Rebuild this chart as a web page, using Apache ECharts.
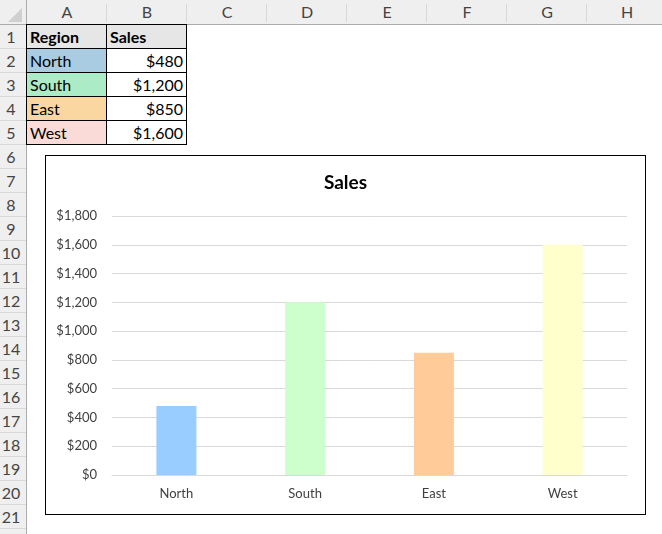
<!DOCTYPE html>
<html>
<head>
<meta charset="utf-8">
<script src="https://cdn.jsdelivr.net/npm/echarts@6/dist/echarts.min.js"></script>
<style>
  html, body { margin: 0; padding: 0; background: #fff; }
  body { width: 662px; height: 534px; position: relative; overflow: hidden; font-family: Lato, "Noto Sans", sans-serif; }
  .abs { position: absolute; box-sizing: border-box; }
  .colhdr { background: #efefef; color: #444; font-size: 16px; text-align: center; line-height: 24px; }
  .rowhdr { background: #efefef; color: #444; font-size: 16px; text-align: center; line-height: 24px; }
  .cell { font-size: 16px; line-height: 23px; color: #000; border-right: 1px solid #000; border-bottom: 1px solid #000; white-space: nowrap; }
  #chart { position: absolute; left: 45px; top: 155px; width: 601px; height: 360px; border: 1px solid #000; box-sizing: border-box; background: #fff; }
</style>
</head>
<body>
<div id="sheet"></div>
<div id="chart"></div>
<script>
// ---- data ----
var regions = ["North", "South", "East", "West"];
var sales = [480, 1200, 850, 1600];
var salesLabels = ["$480", "$1,200", "$850", "$1,600"];
var regionFills = ["#A9CCE3", "#ABEBC6", "#FAD7A0", "#FADBD8"];
var barColors = ["#99CCFF", "#CCFFCC", "#FFCC99", "#FFFFCC"];
var columnLetters = ["A", "B", "C", "D", "E", "F", "G", "H"];
var chartTitle = "Sales";
var headerRegion = "Region";
var headerSales = "Sales";

// ---- spreadsheet ----
var sheet = document.getElementById('sheet');
var ROWH = 24, COLW = 80, X0 = 27, Y0 = 25;
function add(html) { sheet.insertAdjacentHTML('beforeend', html); }
add('<div class="abs" style="left:0;top:0;width:662px;height:24px;background:#efefef;"></div>');
add('<div class="abs" style="left:0;top:0;width:26px;height:534px;background:#efefef;"></div>');
add('<div class="abs" style="left:0;top:24px;width:662px;height:1px;background:#ababab;"></div>');
add('<div class="abs" style="left:26px;top:0;width:1px;height:534px;background:#ababab;"></div>');
add('<div class="abs" style="left:8px;top:8px;width:0;height:0;border-left:14px solid transparent;border-bottom:14px solid #cfcfcf;"></div>');
columnLetters.forEach(function (c, i) {
  var x = X0 + i * COLW;
  add('<div class="abs colhdr" style="left:' + x + 'px;top:0;width:' + COLW + 'px;height:24px;">' + c + '</div>');
  add('<div class="abs" style="left:' + (x + COLW - 1) + 'px;top:4px;width:1px;height:18px;background:#d8d8d8;"></div>');
});
for (var r = 1; r <= 22; r++) {
  var y = Y0 + (r - 1) * ROWH;
  add('<div class="abs rowhdr" style="left:0;top:' + y + 'px;width:22px;height:24px;">' + r + '</div>');
  add('<div class="abs" style="left:0;top:' + (y + ROWH - 1) + 'px;width:26px;height:1px;background:#d8d8d8;"></div>');
}
var tx = X0, ty = Y0;
add('<div class="abs" style="left:' + (tx - 1) + 'px;top:' + (ty - 1) + 'px;width:' + (2 * COLW + 1) + 'px;height:1px;background:#000;"></div>');
add('<div class="abs" style="left:' + (tx - 1) + 'px;top:' + (ty - 1) + 'px;width:1px;height:' + (5 * ROWH + 1) + 'px;background:#000;"></div>');
add('<div class="abs cell" style="left:' + tx + 'px;top:' + ty + 'px;width:' + COLW + 'px;height:' + ROWH + 'px;background:#E7E6E6;font-weight:bold;padding-left:3px;">' + headerRegion + '</div>');
add('<div class="abs cell" style="left:' + (tx + COLW) + 'px;top:' + ty + 'px;width:' + COLW + 'px;height:' + ROWH + 'px;background:#E7E6E6;font-weight:bold;padding-left:3px;">' + headerSales + '</div>');
regions.forEach(function (name, i) {
  var y = ty + (i + 1) * ROWH;
  add('<div class="abs cell" style="left:' + tx + 'px;top:' + y + 'px;width:' + COLW + 'px;height:' + ROWH + 'px;background:' + regionFills[i] + ';padding-left:3px;">' + name + '</div>');
  add('<div class="abs cell" style="left:' + (tx + COLW) + 'px;top:' + y + 'px;width:' + COLW + 'px;height:' + ROWH + 'px;background:#fff;text-align:right;padding-right:3px;">' + salesLabels[i] + '</div>');
});

// ---- chart ----
var chart = echarts.init(document.getElementById('chart'), null, { renderer: 'canvas' });
var fontFam = 'Lato, "Noto Sans", sans-serif';
chart.setOption({
  animation: false,
  title: {
    text: chartTitle, left: 'center', top: 12,
    textStyle: { fontFamily: fontFam, fontSize: 19, fontWeight: 'bold', color: '#000' }
  },
  grid: { left: 66, right: 18, top: 60, bottom: 39 },
  xAxis: {
    type: 'category', data: regions,
    axisLine: { show: true, lineStyle: { color: '#d9d9d9' } },
    axisTick: { show: false },
    axisLabel: { fontFamily: fontFam, fontSize: 13, color: '#404040', margin: 12 }
  },
  yAxis: {
    type: 'value', min: 0, max: 1800, interval: 200,
    axisLine: { show: false }, axisTick: { show: false },
    splitLine: { lineStyle: { color: '#d9d9d9' } },
    axisLabel: {
      fontFamily: fontFam, fontSize: 13, color: '#404040', margin: 15,
      formatter: function (v) { return '$' + v.toLocaleString('en-US'); }
    }
  },
  series: [{
    type: 'bar', barWidth: 40,
    data: sales.map(function (v, i) { return { value: v, itemStyle: { color: barColors[i] } }; })
  }]
});
</script>
</body>
</html>
